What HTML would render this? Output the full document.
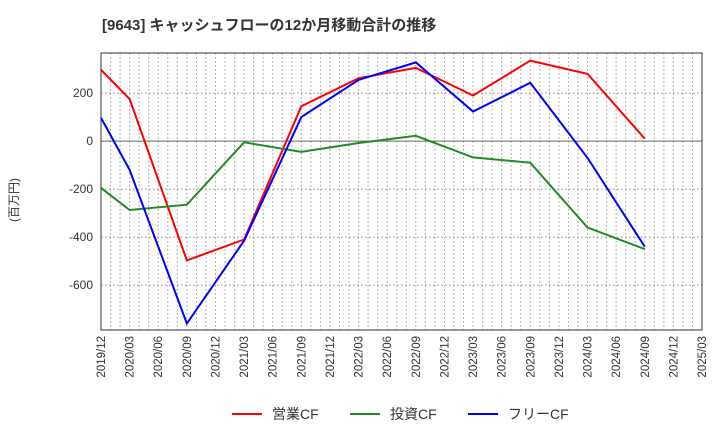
<!DOCTYPE html>
<html><head><meta charset="utf-8"><style>
body{margin:0;background:#fff;}
svg{display:block;font-family:"Liberation Sans","Noto Sans CJK JP",sans-serif;}
</style></head><body>
<svg id="c" width="720" height="440">
<text x="102" y="30" font-size="15" font-weight="bold" fill="#333">[9643]  キャッシュフローの12か月移動合計の推移</text>
<text transform="translate(18,200) rotate(-90)" text-anchor="middle" font-size="12" fill="#333">(百万円)</text>
<g id="grid"></g><g id="lines"></g><g id="axes"></g>
<g>
<line x1="232" y1="414" x2="262" y2="414" stroke="#ff0000" stroke-width="2"/><text x="272" y="419" font-size="14" fill="#333">営業CF</text>
<line x1="350" y1="414" x2="380" y2="414" stroke="#228b22" stroke-width="2"/><text x="390" y="419" font-size="14" fill="#333">投資CF</text>
<line x1="468" y1="414" x2="498" y2="414" stroke="#0000ff" stroke-width="2"/><text x="508" y="419" font-size="14" fill="#333">フリーCF</text>
</g>
</svg>
<script>
const categories=["2019/12","2020/03","2020/09","2021/03","2021/09","2022/03","2022/09","2023/03","2023/09","2024/03","2024/09"];
const operatingCF=[297,175,-497,-410,145,262,305,190,335,280,10];
const investingCF=[-195,-287,-265,-5,-45,-8,22,-68,-90,-360,-450];
const freeCF=[97,-120,-760,-415,100,255,328,123,243,-70,-440];
const xTicks=["2019/12","2020/03","2020/06","2020/09","2020/12","2021/03","2021/06","2021/09","2021/12","2022/03","2022/06","2022/09","2022/12","2023/03","2023/06","2023/09","2023/12","2024/03","2024/06","2024/09","2024/12","2025/03"];
const yTicks=[200,0,-200,-400,-600];
const L=101,R=702,T=53,B=330,yMax=367,yMin=-787;
const NS="http://www.w3.org/2000/svg";
function qi(s){const[y,m]=s.split("/").map(Number);return (y-2019)*4+(m-12)/3;}
function xs(s){return L+qi(s)*(R-L)/21;}
function ys(v){return T+(yMax-v)/(yMax-yMin)*(B-T);}
function mk(p,t,a){const e=document.createElementNS(NS,t);for(const k in a)e.setAttribute(k,a[k]);p.appendChild(e);return e;}
const g=document.getElementById("grid"),ax=document.getElementById("axes"),ln=document.getElementById("lines");
for(let i=1;i<63;i++){const x=L+i*(R-L)/63;const e=mk(g,"line",{x1:x,x2:x,y1:T,y2:B,stroke:"#999","stroke-dasharray":"1.5,2.5","stroke-width":1});

}
yTicks.forEach(v=>{const y=ys(v);const e=mk(g,"line",{x1:L,x2:R,y1:y,y2:y,stroke:v===0?"#666":"#888","stroke-dasharray":v===0?"none":"1.5,2.5","stroke-width":1});


const t=mk(ax,"text",{x:L-8,y:y+4,"text-anchor":"end","font-size":12,fill:"#333"});t.textContent=v;

});
const fr=mk(ax,"rect",{x:L,y:T,width:R-L,height:B-T,fill:"none",stroke:"#333","stroke-width":1});


xTicks.forEach(s=>{const x=xs(s);const t=mk(ax,"text",{transform:`translate(${x+4},${B+6}) rotate(-90)`,"text-anchor":"end","font-size":11.5,fill:"#333"});t.textContent=s;

});
[[operatingCF,"#ff0000","operating-cf-line"],[investingCF,"#228b22","investing-cf-line"],[freeCF,"#0000ff","free-cf-line"]].forEach(([d,c,n])=>{
const p=mk(ln,"polyline",{points:d.map((v,i)=>xs(categories[i])+","+ys(v)).join(" "),fill:"none",stroke:c,"stroke-width":2});

});
</script>
</body></html>
